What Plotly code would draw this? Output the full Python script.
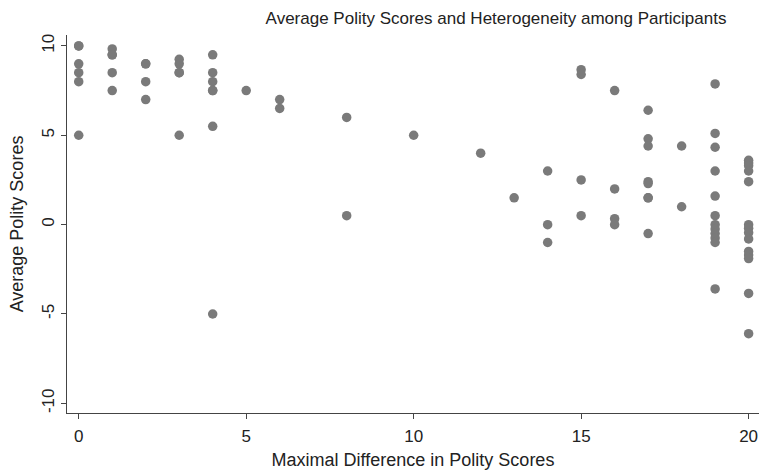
import plotly.graph_objects as go

# Maximal difference in polity scores (x) and average polity scores (y)
diff_0 = [10, 10, 9, 8.5, 8, 5]
diff_1 = [9.83, 9.5, 9.5, 8.5, 7.5]
diff_2 = [9, 9, 8, 7]
diff_3 = [9.25, 9, 8.5, 8.5, 5]
diff_4 = [9.5, 8.5, 8, 7.5, 7.5, 5.5, -5]
diff_5 = [7.5]
diff_6 = [7, 6.5]
diff_8 = [6, 0.5]
diff_10 = [5]
diff_12 = [4]
diff_13 = [1.5]
diff_14 = [3, 0, -1]
diff_15 = [8.67, 8.4, 2.5, 0.5]
diff_16 = [7.5, 2, 0.33, 0]
diff_17 = [6.4, 4.8, 4.4, 2.4, 2.3, 1.5, 1.5, -0.5]
diff_18 = [4.4, 1]
diff_19 = [7.87, 5.1, 4.33, 3, 1.6, 0.5, 0, -0.25, -0.5, -0.75, -1, -3.6]
diff_20 = [3.6, 3.45, 3.3, 3.0, 2.4, 0, -0.2, -0.45, -0.8, -1.5, -1.7, -1.9, -3.85, -6.1]

groups = {0: diff_0, 1: diff_1, 2: diff_2, 3: diff_3, 4: diff_4, 5: diff_5,
          6: diff_6, 8: diff_8, 10: diff_10, 12: diff_12, 13: diff_13,
          14: diff_14, 15: diff_15, 16: diff_16, 17: diff_17, 18: diff_18,
          19: diff_19, 20: diff_20}

x_ticks = [0, 5, 10, 15, 20]
y_ticks = [-10, -5, 0, 5, 10]
y_tick_labels = ["-10", "-5", "0", "5", "10"]

xs, ys = [], []
for k, vals in groups.items():
    for v in vals:
        xs.append(k)
        ys.append(v)

FONT = "Liberation Sans, Arial, Helvetica, sans-serif"
AXIS = "#444444"

fig = go.Figure(go.Scatter(
    x=xs, y=ys, mode="markers",
    marker=dict(size=9.5, color="rgb(122,122,122)", line=dict(width=0)),
    showlegend=False,
))

fig.update_layout(
    width=759, height=470,
    margin=dict(l=67, r=0, t=35, b=57),
    paper_bgcolor="white", plot_bgcolor="white",
    font=dict(family=FONT, size=17, color="#222"),
    title=dict(text="Average Polity Scores and Heterogeneity among Participants",
               x=0.62, xref="paper", xanchor="center",
               y=1 - 18 / 470, yref="container", yanchor="middle",
               font=dict(size=17, color="#222")),
)

fig.update_xaxes(
    range=[-0.35, 20.31], tickvals=x_ticks, ticks="outside", ticklen=5,
    tickcolor=AXIS, showline=True, linecolor=AXIS, linewidth=1,
    showgrid=False, zeroline=False, tickfont=dict(size=17),
    ticklabelstandoff=3,
    title=dict(text="Maximal Difference in Polity Scores", standoff=10,
               font=dict(size=18)),
)
fig.update_yaxes(
    range=[-10.54, 10.61], tickvals=y_ticks, ticktext=y_tick_labels,
    tickangle=-90, ticks="outside", ticklen=5, tickcolor=AXIS,
    showline=True, linecolor=AXIS, linewidth=1,
    showgrid=False, zeroline=False, tickfont=dict(size=17),
    title=dict(text="Average Polity Scores", standoff=10, font=dict(size=18)),
)

fig.write_html("out.html",
               config={"displayModeBar": False},
               post_script="document.body.style.margin='0';"
                           "document.body.style.overflow='hidden';")
